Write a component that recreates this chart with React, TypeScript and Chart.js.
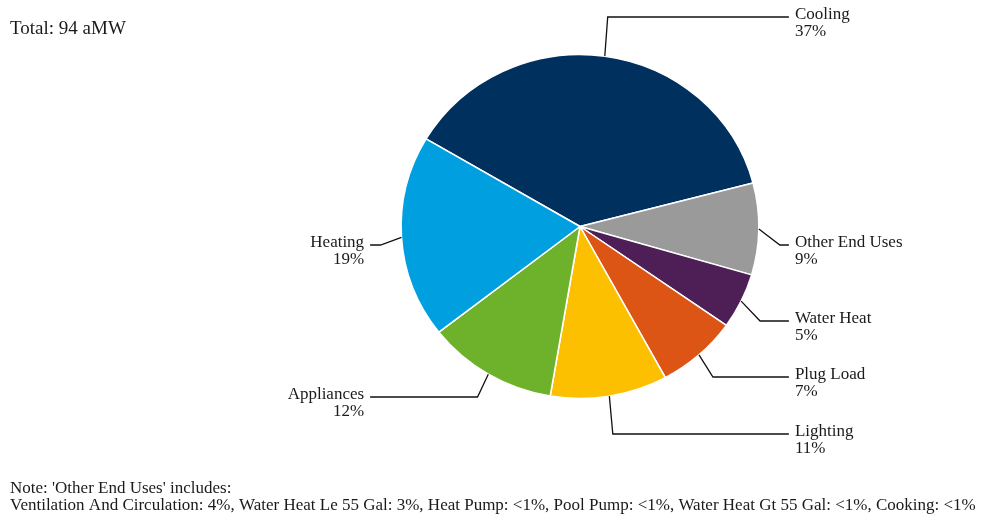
import React, { useEffect, useRef } from "react";
import { Chart, registerables } from "chart.js";

Chart.register(...registerables);

// ---- data ----
const categories = ["Cooling", "Other End Uses", "Water Heat", "Plug Load", "Lighting", "Appliances", "Heating"];
const valuesAMW = [35.2, 8.1, 4.9, 6.9, 9.95, 11.1, 17.9];
const sliceColors = ["#00305E", "#9A9A9A", "#4E1F56", "#DC5514", "#FCC000", "#6EB12A", "#009FE0"];
const totalLabel = "Total: 94 aMW";
const noteLines = [
  "Note: 'Other End Uses' includes:",
  "Ventilation And Circulation: 4%, Water Heat Le 55 Gal: 3%, Heat Pump: <1%, Pool Pump: <1%, Water Heat Gt 55 Gal: <1%, Cooking: <1%",
];

// ---- layout (label leader-line heights, px) ----
const labelLineY = [17, 245, 321, 377, 434, 397, 245];

const W = 983;
const H = 518;
const XSCALE = 1.04;
const FONT = '"Liberation Serif", "Times New Roman", serif';

const total = valuesAMW.reduce((a, b) => a + b, 0);

const ellipsePlugin = {
  id: "ellipse",
  beforeDatasetsDraw(chart: any) {
    const el = chart.getDatasetMeta(0).data[0];
    const ctx = chart.ctx;
    ctx.save();
    ctx.translate(el.x, el.y);
    ctx.scale(XSCALE, 1);
    ctx.translate(-el.x, -el.y);
  },
  afterDatasetsDraw(chart: any) {
    chart.ctx.restore();
  },
};

const labelPlugin = {
  id: "pieLabels",
  afterDraw(chart: any) {
    const ctx = chart.ctx;
    const meta = chart.getDatasetMeta(0);
    ctx.save();
    meta.data.forEach((el: any, i: number) => {
      const p = el.getProps(["x", "y", "startAngle", "endAngle", "outerRadius"], true);
      const mid = (p.startAngle + p.endAngle) / 2;
      const c = Math.cos(mid);
      const s = Math.sin(mid);
      const ax = p.x + p.outerRadius * XSCALE * c;
      const ay = p.y + p.outerRadius * s;
      const right = c >= 0;
      const ex = ax + 21 * c;
      const ey = labelLineY[i];
      const endX = right ? p.x + p.outerRadius * XSCALE + 30 : p.x - p.outerRadius * XSCALE - 31;
      ctx.beginPath();
      ctx.strokeStyle = "#111";
      ctx.lineWidth = 1.3;
      ctx.moveTo(ax, ay);
      ctx.lineTo(ex, ey);
      ctx.lineTo(endX, ey);
      ctx.stroke();
      const tx = right ? endX + 6 : endX - 6;
      ctx.fillStyle = "#1a1a1a";
      ctx.font = `17px ${FONT}`;
      ctx.textAlign = right ? "left" : "right";
      ctx.textBaseline = "alphabetic";
      ctx.fillText(categories[i], tx, ey + 2);
      const pct = Math.round((valuesAMW[i] / total) * 100);
      ctx.fillText(`${pct}%`, tx, ey + 19);
    });
    // title and note
    ctx.textAlign = "left";
    ctx.fillStyle = "#1a1a1a";
    ctx.font = `19px ${FONT}`;
    ctx.fillText(totalLabel, 10, 34);
    ctx.font = `17px ${FONT}`;
    ctx.fillText(noteLines[0], 10, 493);
    ctx.fillText(noteLines[1], 10, 510);
    ctx.restore();
  },
};

export default function App() {
  const ref = useRef<HTMLCanvasElement | null>(null);
  useEffect(() => {
    document.body.style.margin = "0";
    document.body.style.background = "#fff";
    const canvas = ref.current!;
    const chart = new Chart(canvas, {
      type: "pie",
      data: {
        labels: categories,
        datasets: [
          {
            data: valuesAMW,
            backgroundColor: sliceColors,
            borderColor: "#ffffff",
            borderWidth: 1.5,
          },
        ],
      },
      options: {
        responsive: false,
        animation: false,
        devicePixelRatio: 1,
        rotation: -59.4,
        radius: 172,
        layout: { padding: { left: 380, right: 203, top: 26.5, bottom: 91.5 } },
        plugins: {
          legend: { display: false },
          tooltip: { enabled: false },
        },
      } as any,
      plugins: [ellipsePlugin, labelPlugin],
    });
    return () => chart.destroy();
  }, []);
  return (
    <div style={{ position: "absolute", left: 0, top: 0, width: W, height: H, background: "#fff" }}>
      <canvas ref={ref} width={W} height={H} style={{ width: W, height: H, display: "block" }} />
    </div>
  );
}
